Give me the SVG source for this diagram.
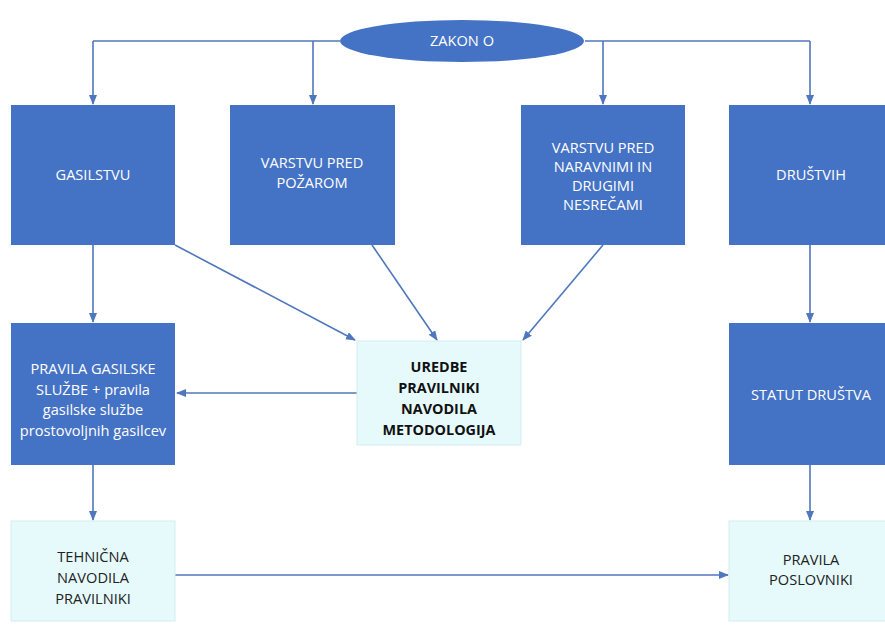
<svg xmlns="http://www.w3.org/2000/svg" width="885" height="626" viewBox="0 0 885 626">
<defs>
<marker id="ah" markerWidth="10" markerHeight="8" refX="9" refY="4" orient="auto" markerUnits="userSpaceOnUse">
<path d="M0,0 L10,4 L0,8 z" fill="#4f77bd"/>
</marker>
<style>
.blue{fill:#4472c4;}
.light{fill:#e6fafc;stroke:#d4eef2;stroke-width:1;}
.wt{fill:#ffffff;font-family:"Open Sans","Liberation Sans",sans-serif;font-size:14.6px;text-anchor:middle;}
.bt{fill:#111111;font-family:"Open Sans","Liberation Sans",sans-serif;font-size:14.4px;font-weight:bold;text-anchor:middle;}
.dt{fill:#222222;font-family:"Open Sans","Liberation Sans",sans-serif;font-size:14.6px;text-anchor:middle;}
.c{fill:none;stroke:#4f77bd;stroke-width:1.6;}
.ca{fill:none;stroke:#4f77bd;stroke-width:1.6;marker-end:url(#ah);}
</style>
</defs>
<rect width="885" height="626" fill="#ffffff"/>
<g id="connectors">
<path class="c" d="M340,41 H93"/>
<path class="c" d="M585,41 H810"/>
<path class="ca" d="M93,41 V104"/>
<path class="ca" d="M313,41 V104"/>
<path class="ca" d="M603,41 V104"/>
<path class="ca" d="M810,41 V104"/>
<path class="ca" d="M93,245 V322"/>
<path class="ca" d="M175,245 L355,340"/>
<path class="ca" d="M372,245 L437,340"/>
<path class="ca" d="M603,245 L523,340"/>
<path class="ca" d="M357,393 H177"/>
<path class="ca" d="M93,465 V520"/>
<path class="ca" d="M810,245 V322"/>
<path class="ca" d="M810,465 V520"/>
<path class="ca" d="M175,575 H728"/>
</g>
<g id="zakon">
<ellipse class="blue" cx="462" cy="41" rx="122" ry="21"/>
<text class="wt" x="462" y="46">ZAKON O</text>
</g>
<g id="gasilstvu">
<rect class="blue" x="11" y="105" width="164" height="140"/>
<text class="wt" x="93" y="180">GASILSTVU</text>
</g>
<g id="pozarom">
<rect class="blue" x="230" y="105" width="165" height="140"/>
<text class="wt" x="312" y="168">VARSTVU PRED</text>
<text class="wt" x="312" y="188">POŽAROM</text>
</g>
<g id="nesrecami">
<rect class="blue" x="521" y="105" width="164" height="140"/>
<text class="wt" x="603" y="153">VARSTVU PRED</text>
<text class="wt" x="603" y="172">NARAVNIMI IN</text>
<text class="wt" x="603" y="191">DRUGIMI</text>
<text class="wt" x="603" y="210">NESREČAMI</text>
</g>
<g id="drustvih">
<rect class="blue" x="729" y="105" width="164" height="140"/>
<text class="wt" x="811" y="180">DRUŠTVIH</text>
</g>
<g id="pravila-gasilske">
<rect class="blue" x="11" y="323" width="164" height="142"/>
<text class="wt" x="93" y="374">PRAVILA GASILSKE</text>
<text class="wt" x="93" y="394.5">SLUŽBE + pravila</text>
<text class="wt" x="93" y="415">gasilske službe</text>
<text class="wt" x="93" y="435.5">prostovoljnih gasilcev</text>
</g>
<g id="uredbe">
<rect class="light" x="357" y="341" width="164" height="104"/>
<text class="bt" x="439" y="372">UREDBE</text>
<text class="bt" x="439" y="393">PRAVILNIKI</text>
<text class="bt" x="439" y="414">NAVODILA</text>
<text class="bt" x="439" y="435">METODOLOGIJA</text>
</g>
<g id="statut">
<rect class="blue" x="729" y="323" width="164" height="142"/>
<text class="wt" x="811" y="400">STATUT DRUŠTVA</text>
</g>
<g id="tehnicna">
<rect class="light" x="11" y="521" width="164" height="100"/>
<text class="dt" x="93" y="562">TEHNIČNA</text>
<text class="dt" x="93" y="583">NAVODILA</text>
<text class="dt" x="93" y="604">PRAVILNIKI</text>
</g>
<g id="poslovniki">
<rect class="light" x="729" y="521" width="164" height="100"/>
<text class="dt" x="811" y="565">PRAVILA</text>
<text class="dt" x="811" y="585">POSLOVNIKI</text>
</g>
</svg>
